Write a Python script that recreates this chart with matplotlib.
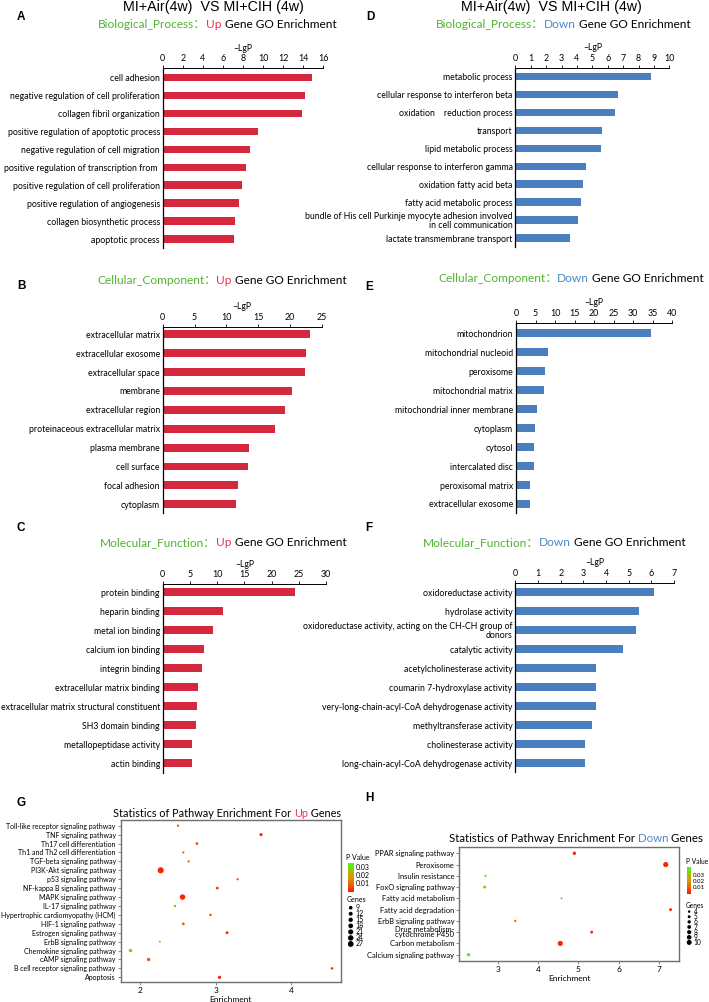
import matplotlib
matplotlib.use('Agg')
import matplotlib.pyplot as plt
import numpy as np
from matplotlib.colors import LinearSegmentedColormap, Normalize
from matplotlib.cm import ScalarMappable

W, H = 709, 1002
plt.rcParams['font.family'] = ['Lato', 'Noto Sans CJK SC', 'DejaVu Sans']

RED = '#d4283f'
BLUE = '#4a7ebf'
GREEN_TXT = '#52b22f'
RED_TXT = '#e8344e'
BLUE_TXT = '#4a86c8'

# ---- GO bar data ----
bp_up_lab = ['cell adhesion', 'negative regulation of cell proliferation', 'collagen fibril organization',
             'positive regulation of apoptotic process', 'negative regulation of cell migration',
             'positive regulation of transcription from ', 'positive regulation of cell proliferation',
             'positive regulation of angiogenesis', 'collagen biosynthetic process', 'apoptotic process']
bp_up_val = [14.9, 14.15, 13.9, 9.5, 8.7, 8.25, 7.9, 7.6, 7.2, 7.1]

cc_up_lab = ['extracellular matrix', 'extracellular exosome', 'extracellular space', 'membrane',
             'extracellular region', 'proteinaceous extracellular matrix', 'plasma membrane',
             'cell surface', 'focal adhesion', 'cytoplasm']
cc_up_val = [23.2, 22.5, 22.4, 20.4, 19.3, 17.7, 13.6, 13.4, 11.8, 11.6]

mf_up_lab = ['protein binding', 'heparin binding', 'metal ion binding', 'calcium ion binding',
             'integrin binding', 'extracellular matrix binding',
             'extracellular matrix structural constituent', 'SH3 domain binding',
             'metallopeptidase activity', 'actin binding']
mf_up_val = [24.3, 11.0, 9.3, 7.5, 7.3, 6.4, 6.25, 6.07, 5.45, 5.33]

bp_dn_lab = ['metabolic process', 'cellular response to interferon beta', 'oxidation    reduction process',
             'transport', 'lipid metabolic process', 'cellular response to interferon gamma',
             'oxidation fatty acid beta', 'fatty acid metabolic process',
             'bundle of His cell Purkinje myocyte adhesion involved\nin cell communication',
             'lactate transmembrane transport']
bp_dn_val = [8.8, 6.7, 6.5, 5.6, 5.55, 4.6, 4.4, 4.25, 4.07, 3.57]

cc_dn_lab = ['mitochondrion', 'mitochondrial nucleoid', 'peroxisome', 'mitochondrial matrix',
             'mitochondrial inner membrane', 'cytoplasm', 'cytosol', 'intercalated disc',
             'peroxisomal matrix', 'extracellular exosome']
cc_dn_val = [34.5, 8.2, 7.3, 7.2, 5.5, 4.8, 4.6, 4.6, 3.66, 3.66]

mf_dn_lab = ['oxidoreductase activity', 'hydrolase activity',
             'oxidoreductase activity, acting on the CH-CH group of\ndonors',
             'catalytic activity', 'acetylcholinesterase activity', 'coumarin 7-hydroxylase activity',
             'very-long-chain-acyl-CoA dehydrogenase activity', 'methyltransferase activity',
             'cholinesterase activity', 'long-chain-acyl-CoA dehydrogenase activity']
mf_dn_val = [6.12, 5.46, 5.34, 4.76, 3.55, 3.56, 3.55, 3.38, 3.08, 3.07]

# ---- KEGG bubble data ----
kg_up_lab = ['Toll-like receptor signaling pathway', 'TNF signaling pathway', 'Th17 cell differentiation',
             'Th1 and Th2 cell differentiation', 'TGF-beta signaling pathway', 'PI3K-Akt signaling pathway',
             'p53 signaling pathway', 'NF-kappa B signaling pathway', 'MAPK signaling pathway',
             'IL-17 signaling pathway', 'Hypertrophic cardiomyopathy (HCM)', 'HIF-1 signaling pathway',
             'Estrogen signaling pathway', 'ErbB signaling pathway', 'Chemokine signaling pathway',
             'cAMP signaling pathway', 'B cell receptor signaling pathway', 'Apoptosis']
kg_up_enr = [2.50, 3.60, 2.75, 2.57, 2.64, 2.27, 3.29, 3.02, 2.56, 2.46, 2.93, 2.57, 3.15, 2.26, 1.87, 2.11, 4.54, 3.05]
kg_up_p = [0.012, 0.002, 0.006, 0.012, 0.011, 0.001, 0.007, 0.003, 0.001, 0.016, 0.007, 0.008, 0.003, 0.033, 0.022, 0.007, 0.002, 0.001]
kg_up_gene = [11, 14, 12, 10, 10, 27, 10, 12, 24, 10, 11, 12, 13, 9, 15, 15, 11, 14]
up_gene_lvls = [9, 12, 15, 18, 21, 24, 27]

kg_dn_lab = ['PPAR signaling pathway', 'Peroxisome', 'Insulin resistance', 'FoxO signaling pathway',
             'Fatty acid metabolism', 'Fatty acid degradation', 'ErbB signaling pathway',
             'Drug metabolism-\ncytochrome P450', 'Carbon metabolism', 'Calcium signaling pathway']
kg_dn_enr = [4.90, 7.17, 2.69, 2.67, 4.58, 7.29, 3.43, 5.33, 4.55, 2.27]
kg_dn_p = [0.003, 0.001, 0.040, 0.025, 0.012, 0.002, 0.013, 0.003, 0.001, 0.038]
kg_dn_gene = [7, 10, 5, 6, 4, 6, 5, 6, 10, 7]
dn_gene_lvls = [4, 5, 6, 7, 8, 9, 10]

pv_ticks = [0.01, 0.02, 0.03]

cmap = LinearSegmentedColormap.from_list('pv', ['#ff1a00', '#e8650a', '#d99a00', '#a6c000', '#33ff33'])

fig = plt.figure(figsize=(W / 100, H / 100), dpi=100)


def box(x0, y0, x1, y1):
    return fig.add_axes([x0 / W, 1 - y1 / H, (x1 - x0) / W, (y1 - y0) / H])


def colored(x, y, parts, size):
    r = fig.canvas.get_renderer()
    for s, c in parts:
        t = fig.text(x / W, 1 - y / H, s, color=c, fontsize=size, ha='left', va='center')
        x += t.get_window_extent(r).width


def letter(x, y, s):
    fig.text(x / W, 1 - y / H, s, fontsize=8.5, fontweight='bold', family='Liberation Sans',
             ha='center', va='center')


def bar_panel(rect, labels, vals, xmax, step, color, ylim):
    ax = box(*rect)
    y = np.arange(len(vals))
    ax.barh(y, vals, height=0.42, color=color)
    ax.set_xlim(0, xmax)
    ax.set_ylim(*ylim)
    ax.set_xticks(np.arange(0, xmax + step / 2, step))
    ax.xaxis.tick_top()
    ax.xaxis.set_label_position('top')
    ax.set_xlabel('\u2013LgP', fontsize=6.2, labelpad=2.5)
    ax.set_yticks(y)
    ax.set_yticklabels(labels, fontsize=6.3, linespacing=1.0)
    ax.tick_params(axis='y', length=0, pad=2)
    ax.tick_params(axis='x', length=2, width=0.6, pad=1.5, labelsize=6.4)
    for s in ['right', 'bottom']:
        ax.spines[s].set_visible(False)
    ax.spines['top'].set_linewidth(0.7)
    ax.spines['left'].set_linewidth(0.9)
    ax.patch.set_visible(False)
    return ax


def bubble(rect, labels, enr, pv, genes, xlim, xticks, ylim, norm, smin, smax, glo, ghi, lab_fs):
    ax = box(*rect)
    y = np.arange(len(labels))
    g = np.array(genes, dtype=float)
    d = smin + (g - glo) / (ghi - glo) * (smax - smin)
    ax.scatter(enr, y, s=d ** 2, c=pv, cmap=cmap, norm=norm, edgecolors='none', zorder=3)
    ax.set_xlim(*xlim)
    ax.set_ylim(*ylim)
    ax.set_xticks(xticks)
    ax.set_yticks(y)
    ax.set_yticklabels(labels, fontsize=lab_fs, linespacing=0.75)
    ax.tick_params(length=2, width=0.6, color='#777777', labelsize=lab_fs, pad=1.5)
    ax.tick_params(axis='x', labelsize=6.0)
    for s in ax.spines.values():
        s.set_color('#6f6f6f')
        s.set_linewidth(1.0)
    return ax


def bubble_legend(lvls, norm, cb_rect, pv_xy, gn_xy, dots_rect, smin, smax, fs, cb_fs):
    fig.text(pv_xy[0] / W, 1 - pv_xy[1] / H, 'P Value', fontsize=fs, ha='left', va='center')
    cax = box(*cb_rect)
    cb = fig.colorbar(ScalarMappable(norm=norm, cmap=cmap), cax=cax)
    cb.outline.set_visible(False)
    cb.set_ticks(pv_ticks)
    cb.set_ticklabels(['%.2f' % v for v in pv_ticks])
    cax.tick_params(length=0, labelsize=cb_fs, pad=1.2)
    fig.text(gn_xy[0] / W, 1 - gn_xy[1] / H, 'Genes', fontsize=fs, ha='left', va='center')
    lax = box(*dots_rect)
    lax.axis('off')
    i = np.arange(len(lvls))
    g = np.array(lvls, dtype=float)
    d = smin + (g - g.min()) / (g.max() - g.min()) * (smax - smin)
    lax.scatter(np.zeros(len(lvls)), i, s=d ** 2, color='black', edgecolors='none')
    for k, v in zip(i, lvls):
        lax.text(0.9, k, str(v), fontsize=fs, va='center', ha='left', linespacing=0.8)
    lax.set_xlim(-0.6, 4)
    lax.set_ylim(len(lvls) - 0.5, -0.5)


# ---- top titles ----
for cx in [213.7, 551]:
    fig.text(cx / W, 1 - 11 / H, 'MI+Air(4w)  VS MI+CIH (4w)', fontsize=10.3,
             family='Liberation Sans', ha='center', va='baseline')

letter(21, 17, 'A')
letter(370, 17, 'D')
letter(21, 286, 'B')
letter(369, 287, 'E')
letter(21, 528, 'C')
letter(369, 528, 'F')
letter(21, 803, 'G')
letter(369, 798, 'H')

SUB = 8.6
colored(98, 24, [('Biological_Process：', GREEN_TXT), ('Up', RED_TXT), (' Gene GO Enrichment', 'black')], SUB)
colored(436, 24, [('Biological_Process：', GREEN_TXT), ('Down', BLUE_TXT), (' Gene GO Enrichment', 'black')], SUB)
colored(97, 281, [('Cellular_Component：', GREEN_TXT), ('Up', RED_TXT), (' Gene GO Enrichment', 'black')], SUB)
colored(438, 279, [('Cellular_Component：', GREEN_TXT), ('Down', BLUE_TXT), (' Gene GO Enrichment', 'black')], SUB)
colored(100, 543, [('Molecular_Function：', GREEN_TXT), ('Up', RED_TXT), (' Gene GO Enrichment', 'black')], SUB)
colored(423, 543, [('Molecular_Function：', GREEN_TXT), ('Down', BLUE_TXT), (' Gene GO Enrichment', 'black')], SUB)

bar_panel((162.7, 68, 323.3, 248), bp_up_lab, bp_up_val, 16, 2, RED, (9.5, -0.54))
bar_panel((162.7, 326.7, 321.7, 513), cc_up_lab, cc_up_val, 25, 5, RED, (9.46, -0.40))
bar_panel((162.7, 584, 326, 772.7), mf_up_lab, mf_up_val, 30, 5, RED, (9.49, -0.44))
bar_panel((515.3, 67.7, 669.3, 247), bp_dn_lab, bp_dn_val, 10, 1, BLUE, (9.5, -0.5))
bar_panel((516, 322.7, 672.3, 512.7), cc_dn_lab, cc_dn_val, 40, 5, BLUE, (9.46, -0.56))
bar_panel((515.3, 582.7, 674, 772), mf_dn_lab, mf_dn_val, 7, 1, BLUE, (9.46, -0.49))

# ---- bubble charts ----
norm_up = Normalize(0, 0.035)
norm_dn = Normalize(0, 0.042)

colored(113, 813.3, [('Statistics of Pathway Enrichment For ', 'black'), ('Up', RED_TXT), (' Genes', 'black')], 7.8)
axg = bubble((120.7, 820, 341, 981.7), kg_up_lab, kg_up_enr, kg_up_p, kg_up_gene,
             (1.74, 4.66), [2, 3, 4], (17.49, -0.64), norm_up, 1.5, 4.4, 9, 27, 5.0)
axg.set_xlabel('Enrichment', fontsize=6.0, labelpad=1.5)
bubble_legend(up_gene_lvls, norm_up, (348.3, 862.7, 354, 891.7), (346.5, 857), (347, 899.5),
              (347.5, 904.7, 372, 947), 2.6, 4.2, 5.0, 5.0)

colored(449, 838.7, [('Statistics of Pathway Enrichment For ', 'black'), ('Down', BLUE_TXT), (' Genes', 'black')], 8.3)
axh = bubble((459.3, 847.3, 679, 961), kg_dn_lab, kg_dn_enr, kg_dn_p, kg_dn_gene,
             (2.04, 7.5), [3, 4, 5, 6, 7], (9.56, -0.53), norm_dn, 1.3, 3.7, 4, 10, 5.4)
axh.set_xlabel('Enrichment', fontsize=6.0, labelpad=1.5)
bubble_legend(dn_gene_lvls, norm_dn, (686.7, 867, 691.3, 893.5), (685.5, 862), (686, 906),
              (686.2, 909, 709, 945), 1.8, 3.6, 4.8, 4.4)

fig.savefig('out.png', dpi=100)
